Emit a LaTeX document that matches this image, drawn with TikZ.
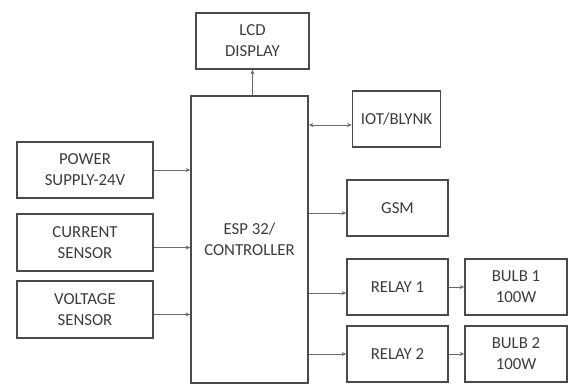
\documentclass[tikz,border=0pt]{standalone}
\usepackage{fontspec}
\setmainfont{Carlito}
\usetikzlibrary{arrows.meta}
\definecolor{boxline}{HTML}{4A4A4A}
\definecolor{txt}{HTML}{3C3C3C}
\definecolor{arr}{HTML}{6A6A6A}
\begin{document}
\begin{tikzpicture}[x=1pt,y=-1pt,
  blk/.style={draw=boxline, line width=1.6pt, align=center, inner sep=0pt,
    text=txt, font=\fontsize{16.8}{21}\selectfont},
  conn/.style={draw=arr, line width=0.9pt, -{Stealth[length=4.5pt,width=4pt]}},
  bconn/.style={draw=arr, line width=0.9pt, {Stealth[length=4.5pt,width=4pt]}-{Stealth[length=4.5pt,width=4pt]}}]
\useasboundingbox (0,0) rectangle (572,385);
% boxes
\node[blk, minimum width=113pt, minimum height=56pt] (lcd) at (252.5,41) {LCD\\DISPLAY};
\node[blk, minimum width=117pt, minimum height=287pt] (esp) at (249.5,239.5) {ESP 32/\\CONTROLLER};
\node[blk, minimum width=88pt, minimum height=56pt] (iot) at (396.5,119) {IOT/BLYNK};
\node[blk, minimum width=136pt, minimum height=56pt] (pow) at (85,170) {POWER\\SUPPLY-24V};
\node[blk, minimum width=136pt, minimum height=57pt] (cur) at (85,242.5) {CURRENT\\SENSOR};
\node[blk, minimum width=136pt, minimum height=57pt] (vol) at (85,309.5) {VOLTAGE\\SENSOR};
\node[blk, minimum width=101pt, minimum height=56pt] (gsm) at (397.5,208) {GSM};
\node[blk, minimum width=101pt, minimum height=56pt] (rl1) at (397.5,287) {RELAY 1};
\node[blk, minimum width=101pt, minimum height=56pt] (rl2) at (397.5,354) {RELAY 2};
\node[blk, minimum width=102pt, minimum height=56pt] (bl1) at (516,287) {BULB 1\\100W};
\node[blk, minimum width=102pt, minimum height=56pt] (bl2) at (516,354) {BULB 2\\100W};
% connectors
\draw[conn] (esp.north -| lcd.south) -- (lcd.south);
\draw[bconn] ([yshift=-6pt]iot.west -| esp.east) -- ([yshift=-6pt]iot.west);
\draw[conn] (pow.east) -- (pow.east -| esp.west);
\draw[conn] ([yshift=-5pt]cur.east) -- ([yshift=-5pt]cur.east -| esp.west);
\draw[conn] ([yshift=-5pt]vol.east) -- ([yshift=-5pt]vol.east -| esp.west);
\draw[conn] ([yshift=-5pt]gsm.west -| esp.east) -- ([yshift=-5pt]gsm.west);
\draw[conn] ([yshift=-6pt]rl1.west -| esp.east) -- ([yshift=-6pt]rl1.west);
\draw[conn] (rl2.west -| esp.east) -- (rl2.west);
\draw[conn] (rl1.east) -- (bl1.west);
\draw[conn] (rl2.east) -- (bl2.west);
\end{tikzpicture}
\end{document}
